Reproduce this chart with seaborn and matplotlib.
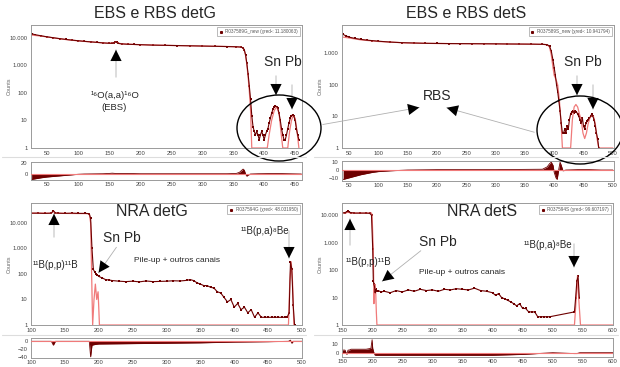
import numpy as np
import matplotlib
matplotlib.use("Agg")
import matplotlib.pyplot as plt
import seaborn as sns
from matplotlib.patches import Ellipse, FancyArrowPatch
from matplotlib.lines import Line2D
from matplotlib.ticker import FixedLocator, FuncFormatter

# ---- EBS e RBS detG ----
ebs_g_ch = [25, 30, 40, 50, 60, 70, 80, 90, 100, 110, 120, 130, 140, 150, 155, 158, 160, 162, 165, 170,
            180, 190, 200, 220, 240, 260, 280, 300, 320, 340, 355, 362, 366, 368, 370, 372, 374, 376, 378, 380,
            382, 384, 386, 388, 390, 392, 394, 396, 398, 400, 402, 404, 406, 408, 410, 412, 414, 416, 418, 420,
            422, 424, 426, 428, 430, 432, 434, 436, 438, 440, 442, 444, 446, 448, 450, 452, 454, 456]
ebs_g_counts = [14000, 13000, 11800, 10800, 10000, 9300, 8700, 8200, 7800, 7400, 7100, 6800, 6500, 6300, 6300, 6700, 7200, 6800, 6200, 6000,
                5800, 5700, 5600, 5400, 5300, 5200, 5100, 5000, 4900, 4800, 4700, 4600, 4300, 3600, 2400, 1200, 500, 180, 60, 15,
                6, 4, 3, 4, 3, 2, 3, 4, 3, 2, 3, 4, 5, 8, 12, 18, 25, 30, 33, 32,
                28, 18, 10, 5, 3, 2, 2, 3, 5, 8, 12, 15, 16, 14, 10, 5, 3, 2]
ebs_g_fit_ch = [25, 40, 60, 80, 100, 130, 150, 158, 160, 162, 170, 200, 250, 300, 350, 362, 366, 368, 370, 372,
                374, 376, 378, 380, 405, 408, 412, 416, 420, 424, 427, 430, 438, 441, 444, 447, 450, 453, 456]
ebs_g_fit = [12500, 11500, 9900, 8600, 7700, 6800, 6300, 6600, 7100, 6700, 6000, 5600, 5250, 5000, 4750, 4600, 4300, 3500, 2300, 1100,
             400, 120, 25, 1, 1, 3, 10, 22, 32, 18, 4, 1, 1, 4, 10, 15, 12, 4, 1]
ebs_g_res_ch = [25, 30, 40, 50, 60, 70, 80, 90, 100, 110, 140, 150, 155, 160, 180, 200, 250, 300, 340, 355,
                360, 363, 366, 368, 370, 372, 374, 378, 390, 420, 440, 460]
ebs_g_res = [-10, -9, -7, -5.5, -4.5, -3.5, -2.5, -1.5, -0.5, 0, 0.5, 1, 1.5, 1, 1, 0.5, 0.5, 0.5, 0.5, 1,
             3, 6, 9, 7, 0, -4, -2, 0, 0.5, 1, 0.5, 0]

# ---- EBS e RBS detS ----
ebs_s_ch = [40, 45, 50, 60, 70, 80, 90, 100, 120, 140, 160, 180, 200, 220, 240, 260, 280, 300, 320, 340,
            360, 380, 388, 392, 395, 398, 400, 402, 404, 406, 408, 410, 412, 414, 416, 418, 420, 422, 424, 426,
            428, 430, 432, 434, 436, 438, 440, 442, 444, 446, 448, 450, 452, 454, 456, 458, 460, 462, 464, 466,
            468, 470, 472, 474, 476]
ebs_s_counts = [4000, 3600, 3300, 3000, 2800, 2650, 2550, 2450, 2300, 2200, 2150, 2100, 2080, 2060, 2050, 2040, 2030, 2020, 2000, 1990,
                1980, 1950, 1900, 1700, 1200, 600, 350, 200, 100, 60, 30, 15, 6, 3, 3, 4, 3, 5, 4, 8,
                12, 14, 15, 13, 15, 14, 12, 10, 8, 6, 9, 5, 4, 6, 7, 8, 9, 10, 12, 10,
                8, 5, 3, 2, 1]
ebs_s_fit_ch = [40, 50, 70, 100, 150, 200, 300, 380, 388, 392, 395, 398, 400, 403, 406, 409, 412, 414, 416, 428,
                431, 434, 437, 440, 443, 446, 449, 452, 455, 458, 461, 464, 467, 470, 473, 476, 500]
ebs_s_fit = [3300, 3100, 2700, 2400, 2150, 2070, 2010, 1950, 1900, 1600, 900, 350, 200, 150, 100, 30, 5, 1, 1, 1,
             8, 20, 24, 20, 12, 8, 3, 2, 3, 6, 9, 11, 10, 6, 2, 1, 1]
ebs_s_res_ch = [40, 50, 60, 70, 80, 90, 100, 120, 150, 200, 300, 380, 388, 392, 395, 398, 400, 403, 405, 408,
                410, 412, 415, 420, 440, 460, 480, 500]
ebs_s_res = [-12, -10, -8, -6, -4.5, -3, -2, -1, 0, 0.5, 0.5, 1, 4, 8, 10, 6, -3, -10, -12, 2,
             10, 6, -1, 0, 0.5, 0.5, 0, 0]

# ---- NRA detG ----
nra_g_ch = [100, 110, 120, 130, 133, 136, 140, 150, 160, 170, 180, 186, 188, 190, 192, 194, 196, 198, 200, 205,
            210, 215, 220, 230, 240, 250, 260, 270, 280, 290, 300, 310, 320, 330, 335, 340, 345, 350, 355, 360,
            365, 370, 375, 380, 385, 390, 395, 400, 405, 410, 415, 420, 425, 430, 435, 440, 445, 450, 455, 460,
            465, 470, 475, 478, 481, 483, 485, 487, 489]
nra_g_counts = [24000, 24000, 23500, 24000, 30000, 24500, 24000, 23500, 24000, 23500, 23500, 23000, 15000, 1000, 150, 120, 100, 90, 80, 70,
                60, 58, 55, 52, 50, 52, 49, 53, 50, 51, 52, 54, 53, 56, 60, 55, 45, 40, 35, 35,
                30, 28, 20, 18, 12, 8, 10, 5, 7, 4, 5, 3, 4, 2, 3, 2, 2, 2, 2, 2,
                2, 2, 2, 2, 3, 300, 150, 6, 1]
nra_g_fit_ch = [100, 130, 133, 136, 150, 186, 188, 189, 190, 191, 193, 195, 197, 199, 200, 201, 480, 482, 484, 486, 488]
nra_g_fit = [24000, 24000, 28000, 24000, 23500, 23000, 10000, 500, 20, 1, 10, 40, 10, 20, 5, 1, 1, 50, 300, 50, 1]
nra_g_res_ch = [100, 130, 133, 136, 150, 186, 188, 190, 195, 200, 250, 300, 350, 400, 450, 480, 483, 485, 487, 490, 500]
nra_g_res = [0, 0, -10, 0, 0, 0, -40, -10, -8, -7, -6, -5, -4, -2, -1, 0, 3, -5, 0, 0, 0]

# ---- NRA detS ----
nra_s_ch = [150, 155, 158, 160, 162, 165, 170, 180, 190, 196, 199, 201, 202, 203, 204, 205, 206, 207, 210, 215,
            220, 230, 240, 250, 260, 270, 280, 290, 300, 310, 320, 330, 340, 350, 360, 370, 380, 390, 400, 405,
            410, 415, 420, 425, 430, 435, 440, 445, 450, 455, 460, 465, 470, 475, 480, 485, 490, 495, 536, 538,
            540, 542, 544]
nra_s_counts = [12000, 12500, 13500, 14000, 13000, 12500, 12000, 12000, 12000, 11800, 10000, 600, 40, 30, 25, 15, 20, 17, 18, 16,
                17, 15, 18, 16, 19, 17, 20, 18, 19, 17, 20, 19, 21, 20, 19, 22, 18, 17, 15, 12,
                14, 10, 9, 8, 7, 6, 5, 6, 4, 4, 3, 3, 3, 2, 2, 2, 2, 2, 3, 10,
                40, 60, 10]
nra_s_fit_ch = [150, 158, 160, 162, 170, 199, 200, 202, 203, 204, 205, 206, 207, 208, 536, 539, 541, 543, 546, 600]
nra_s_fit = [12000, 12300, 13500, 12300, 12000, 12000, 9000, 500, 6, 20, 30, 15, 3, 1, 1, 10, 60, 10, 1, 1]
nra_s_res_ch = [150, 155, 158, 160, 162, 165, 170, 180, 190, 198, 200, 201, 203, 205, 210, 250, 300, 350, 400, 450,
                500, 535, 540, 545, 600]
nra_s_res = [3, 3, -2, 3, 3, 4, 4, 4, 4, 5, 15, 5, 0, -3, -3, -3, -3, -3, -3, -2,
             0, -1, -1, 0, 0]

W, H = 620, 367
DATA_C = "#6e0000"
FIT_C = "#f07a7a"

sns.set_style("white")
plt.rcParams["font.family"] = ["Liberation Sans", "DejaVu Sans"]

fig = plt.figure(figsize=(6.2, 3.67), dpi=100)


def rect(x0, y0, x1, y1):
    return [x0 / W, 1 - y1 / H, (x1 - x0) / W, (y1 - y0) / H]


def px(x, y):
    return (x / W, 1 - y / H)


def dot_fmt(v, pos):
    return f"{int(round(v)):,}".replace(",", ".")


def style(ax, xticks):
    for s in ax.spines.values():
        s.set_color("#9a9a9a")
        s.set_linewidth(0.7)
    ax.xaxis.set_major_locator(FixedLocator(xticks))
    ax.tick_params(labelsize=4.2, colors="#444444", length=1.5, width=0.5, pad=1)
    ax.set_xlabel("")


def main_panel(box, ch, counts, fch, fit, xlim, ylim, yticks, xticks, label):
    ax = fig.add_axes(rect(*box))
    sns.lineplot(x=fch, y=fit, ax=ax, color=FIT_C, lw=0.9, estimator=None, sort=False)
    sns.lineplot(x=ch, y=counts, ax=ax, color=DATA_C, lw=0.8, estimator=None, sort=False)
    sns.scatterplot(x=ch, y=counts, ax=ax, color=DATA_C, s=3, marker="s", linewidth=0)
    ax.set_yscale("log")
    ax.set_xlim(*xlim)
    ax.set_ylim(*ylim)
    ax.yaxis.set_major_locator(FixedLocator(yticks))
    ax.yaxis.set_minor_locator(FixedLocator([]))
    ax.yaxis.set_major_formatter(FuncFormatter(dot_fmt))
    style(ax, xticks)
    ax.set_ylabel("Counts", fontsize=4, color="#666666")
    ax.yaxis.set_label_coords(-19 / (box[2] - box[0]), 0.5)
    h = Line2D([], [], color=DATA_C, marker="s", ms=1.2, lw=0)
    leg = ax.legend([h], [label], loc="upper right", fontsize=3.3, frameon=True, fancybox=False,
                    borderpad=0.4, handlelength=0.8, handletextpad=0.6, borderaxespad=0.5)
    leg.get_frame().set_edgecolor("#888888")
    leg.get_frame().set_linewidth(0.5)
    for t in leg.get_texts():
        t.set_color("#555555")
    return ax


def res_panel(box, ch, res, xlim, ylim, yticks, xticks):
    ax = fig.add_axes(rect(*box))
    ax.fill_between(ch, 0, res, color=DATA_C, lw=0)
    sns.lineplot(x=ch, y=res, ax=ax, color=DATA_C, lw=0.6, estimator=None, sort=False)
    ax.axhline(0, color=FIT_C, lw=0.8, zorder=3)
    ax.set_xlim(*xlim)
    ax.set_ylim(*ylim)
    ax.yaxis.set_major_locator(FixedLocator(yticks))
    style(ax, xticks)
    ax.tick_params(axis="x", length=0, pad=1.2)
    ax.set_ylabel("")
    return ax


main_panel((31, 25, 302, 148), ebs_g_ch, ebs_g_counts, ebs_g_fit_ch, ebs_g_fit, (24, 461), (1, 29000),
           [1, 10, 100, 1000, 10000], range(50, 451, 50), "R037589G_new (χred²: 11.180063)")
res_panel((31, 162, 302, 180), ebs_g_res_ch, ebs_g_res, (24, 461), (-11, 22), [0, 20], range(50, 451, 50))

main_panel((342, 25, 614, 148), ebs_s_ch, ebs_s_counts, ebs_s_fit_ch, ebs_s_fit, (38, 502), (1, 8000),
           [1, 10, 100, 1000], range(50, 501, 50), "R037589S_new (χred²: 10.941794)")
res_panel((342, 161, 614, 181), ebs_s_res_ch, ebs_s_res, (38, 502), (-14, 11.5), [-10, 0, 10], range(50, 501, 50))

main_panel((31, 203, 302, 325), nra_g_ch, nra_g_counts, nra_g_fit_ch, nra_g_fit, (100, 500), (1, 60000),
           [1, 10, 100, 1000, 10000], range(100, 501, 50), "R037594G (χred²: 48.031950)")
res_panel((31, 338, 302, 358), nra_g_res_ch, nra_g_res, (100, 500), (-43, 8.5), [-40, -20, 0], range(100, 501, 50))

main_panel((342, 203, 613, 325), nra_s_ch, nra_s_counts, nra_s_fit_ch, nra_s_fit, (150, 600), (1, 28000),
           [1, 10, 100, 1000, 10000], range(150, 601, 50), "R037594S (χred²: 99.607197)")
res_panel((342, 338, 613, 357), nra_s_res_ch, nra_s_res, (150, 600), (-5, 17), [0, 10], range(150, 601, 50))

# separators
for y in (157, 335):
    fig.add_artist(Line2D([2 / W, 306 / W], [1 - y / H] * 2, color="#dddddd", lw=0.8))
    fig.add_artist(Line2D([314 / W, 618 / W], [1 - y / H] * 2, color="#dddddd", lw=0.8))


def txt(x, y, s, size, **kw):
    fig.text(x / W, 1 - y / H, s, fontsize=size, ha="center", va="center", **kw)


def arrow(x0, y0, x1, y1, head=True):
    fig.add_artist(FancyArrowPatch(px(x0, y0), px(x1, y1), transform=fig.transFigure,
                                   arrowstyle="-", color="#b0b0b0", lw=0.6))
    if head:
        d = np.array([x1 - x0, y1 - y0], dtype=float)
        d /= np.hypot(*d)
        sx, sy = x1 - 8 * d[0], y1 - 8 * d[1]
        fig.add_artist(FancyArrowPatch(px(sx, sy), px(x1, y1), transform=fig.transFigure,
                                       arrowstyle="-|>,head_length=0.9,head_width=0.45",
                                       mutation_scale=9, color="black", lw=0))


# titles
txt(155, 14, "EBS e RBS detG", 11.5)
txt(466, 14, "EBS e RBS detS", 11.5)
txt(152, 211, "NRA detG", 11.5)
txt(482, 211, "NRA detS", 11.5)

# panel 1 annotations
txt(115, 95, "¹⁶O(a,a)¹⁶O", 6.8)
txt(114, 108, "(EBS)", 6.8)
arrow(116, 80, 116, 47)
txt(283, 62, "Sn Pb", 10)
arrow(276, 73, 276, 98)
arrow(292, 82, 292, 112)
fig.add_artist(Ellipse(px(279, 128), 84 / W, 66 / H, transform=fig.transFigure,
                       fill=False, ec="black", lw=1.0))

# panel 2 annotations
txt(437, 96, "RBS", 10)
arrow(320, 125, 422, 107)
arrow(537, 133, 444, 107)
txt(583, 62, "Sn Pb", 10)
arrow(577, 73, 577, 98)
arrow(593, 82, 593, 112)
fig.add_artist(Ellipse(px(580, 130), 86 / W, 68 / H, transform=fig.transFigure,
                       fill=False, ec="black", lw=1.0))

# panel 3 annotations
txt(55, 265, "¹¹B(p,p)¹¹B", 7)
arrow(54, 240, 54, 211)
txt(122, 238, "Sn Pb", 10)
arrow(118, 245, 97, 275)
txt(177, 260, "Pile-up + outros canais", 6)
txt(265, 231, "¹¹B(p,a)⁸Be", 7)
arrow(289, 228, 289, 261)

# panel 4 annotations
txt(368, 262, "¹¹B(p,p)¹¹B", 7)
arrow(350, 248, 350, 216)
txt(438, 242, "Sn Pb", 10)
arrow(423, 249, 380, 283)
txt(462, 273, "Pile-up + outros canais", 6)
txt(548, 245, "¹¹B(p,a)⁸Be", 7)
arrow(574, 241, 574, 270)

fig.savefig("out.png", dpi=100)
